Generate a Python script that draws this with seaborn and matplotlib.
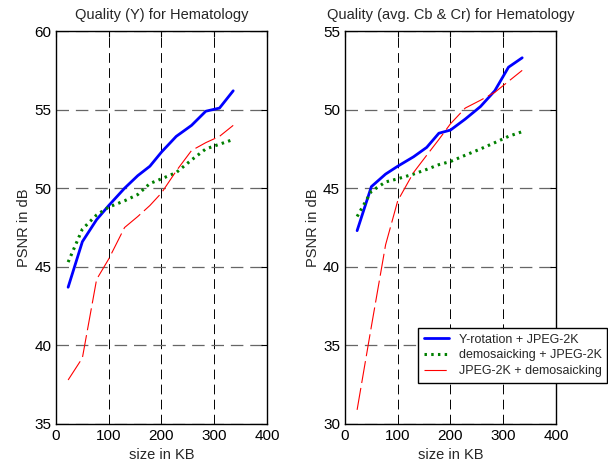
import matplotlib

matplotlib.use("Agg")
import matplotlib.pyplot as plt
import pandas as pd
import seaborn as sns

# sizes in KB (shared by all series)
size_kb = [23, 50, 77, 100, 130, 155, 178, 200, 228, 257, 284, 310, 336]

# Quality (Y)
y_rot_y = [43.7, 46.6, 48.0, 48.9, 50.0, 50.8, 51.4, 52.3, 53.3, 54.0, 54.9, 55.1, 56.2]
demosaic_y = [45.3, 47.4, 48.3, 48.8, 49.2, 49.6, 50.3, 50.6, 51.0, 51.8, 52.5, 52.8, 53.1]
jpeg_first_y = [37.8, 39.2, 44.2, 45.5, 47.5, 48.2, 48.9, 49.7, 51.1, 52.4, 52.9, 53.3, 54.0]

# Quality (avg. Cb & Cr)
y_rot_c = [42.3, 45.1, 45.9, 46.4, 47.0, 47.6, 48.5, 48.7, 49.4, 50.2, 51.2, 52.7, 53.3]
demosaic_c = [43.2, 44.8, 45.4, 45.6, 45.9, 46.2, 46.5, 46.7, 47.1, 47.5, 47.9, 48.3, 48.6]
jpeg_first_c = [30.9, 36.2, 41.4, 44.2, 46.0, 47.1, 48.1, 49.1, 50.1, 50.6, 51.1, 51.8, 52.5]

labels = ["Y-rotation + JPEG-2K", "demosaicking + JPEG-2K", "JPEG-2K + demosaicking"]
titles = ["Quality (Y) for Hematology", "Quality (avg. Cb & Cr) for Hematology"]
ylims = [(35, 60), (30, 55)]
yticks = [[35, 40, 45, 50, 55, 60], [30, 35, 40, 45, 50, 55]]
xticks = [0, 100, 200, 300, 400]

styles = {
    labels[0]: dict(color="#0000ff", lw=2.0, ls="-"),
    labels[1]: dict(color="#008000", lw=2.2, ls=(0, (0.8, 1.4))),
    labels[2]: dict(color="#ff0000", lw=0.8, ls=(0, (20, 4.5))),
}

sns.set_style("white")
plt.rcParams["font.family"] = ["Liberation Sans", "DejaVu Sans"]

fig = plt.figure(figsize=(6.08, 4.65), dpi=100)
ax_l = fig.add_axes([0.0921, 0.0882, 0.347, 0.845])
ax_r = fig.add_axes([0.5674, 0.0882, 0.347, 0.845])

panels = [
    (ax_l, [y_rot_y, demosaic_y, jpeg_first_y]),
    (ax_r, [y_rot_c, demosaic_c, jpeg_first_c]),
]

for i, (ax, series) in enumerate(panels):
    for label, vals in zip(labels, series):
        df = pd.DataFrame({"size": size_kb, "psnr": vals})
        st = styles[label]
        sns.lineplot(data=df, x="size", y="psnr", ax=ax, color=st["color"],
                     linewidth=st["lw"], linestyle=st["ls"], label=label,
                     estimator=None, sort=False, legend=False)
    ax.set_xlim(0, 400)
    ax.set_ylim(*ylims[i])
    ax.set_xticks(xticks)
    ax.set_yticks(yticks[i])
    ax.xaxis.grid(True, color="black", linestyle=(0, (10, 5.5)), linewidth=0.7)
    ax.yaxis.grid(True, color="#666666", linestyle=(0, (10, 5.5)), linewidth=0.9)
    ax.set_axisbelow(True)
    ax.tick_params(direction="in", top=True, right=True, labelsize=11, length=4, colors="black")
    for sp in ax.spines.values():
        sp.set_color("black")
        sp.set_linewidth(1.0)
    ax.set_title(titles[i], fontsize=10.5, pad=9)
    ax.set_xlabel("size in KB", fontsize=10.5, labelpad=4)
    ax.set_ylabel("PSNR in dB", fontsize=10.5, labelpad=2)

handles, _ = ax_r.get_legend_handles_labels()
leg = ax_r.legend(handles, labels, loc="upper left", bbox_to_anchor=(0.6875, 0.2946),
                  bbox_transform=fig.transFigure, fontsize=9, fancybox=False,
                  framealpha=1, edgecolor="black", borderpad=0.45, labelspacing=0.3,
                  handlelength=2.0, borderaxespad=0)
leg.get_frame().set_linewidth(1.0)

fig.savefig("out.png", dpi=100)
